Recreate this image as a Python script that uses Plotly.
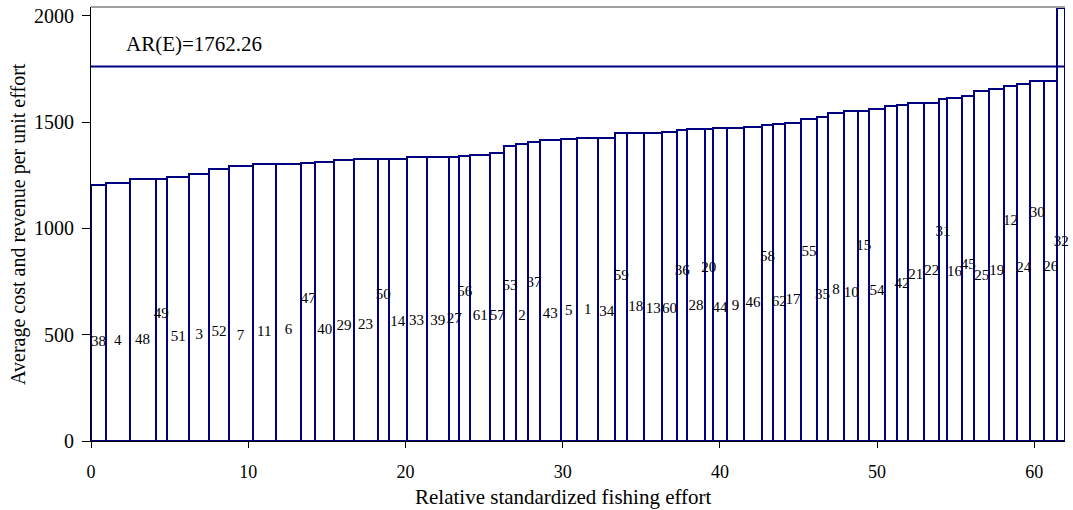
import numpy as np
import plotly.graph_objects as go

# Vessel identifiers, in the order shown (sorted by average cost)
vessels = ["38", "4", "48", "49", "51", "3", "52", "7", "11", "6",
           "47", "40", "29", "23", "50", "14", "33", "39", "27", "56",
           "61", "57", "53", "2", "37", "43", "5", "1", "34", "59",
           "18", "13", "60", "36", "28", "20", "44", "9", "46", "58",
           "62", "17", "55", "35", "8", "10", "15", "54", "41", "42",
           "21", "22", "31", "16", "45", "25", "19", "12", "24", "30",
           "26", "32"]

# Relative standardized fishing effort of each vessel (bar width)
effort = [0.954, 1.501, 1.653, 0.725, 1.418, 1.272, 1.227, 1.526, 1.488, 1.609,
          0.890, 1.208, 1.227, 1.526, 0.744, 1.100, 1.272, 1.443, 0.636, 0.699,
          1.272, 0.890, 0.744, 0.782, 0.744, 1.335, 1.017, 1.373, 1.062, 0.782,
          1.062, 1.145, 0.935, 0.674, 1.106, 0.509, 0.909, 1.081, 1.125, 0.738,
          0.744, 1.017, 1.017, 0.680, 1.036, 0.909, 0.680, 0.998, 0.750, 0.699,
          1.062, 0.960, 0.471, 0.992, 0.744, 0.973, 0.935, 0.827, 0.846, 0.871,
          0.846, 0.490]

# Average cost per unit effort (bar height)
avg_cost = [1205, 1215, 1233, 1234, 1244, 1258, 1279, 1293, 1302, 1304,
            1310, 1314, 1321, 1326, 1328, 1329, 1336, 1338, 1338, 1340,
            1346, 1355, 1390, 1399, 1407, 1416, 1423, 1424, 1427, 1451,
            1451, 1451, 1453, 1462, 1468, 1470, 1471, 1474, 1478, 1486,
            1492, 1495, 1517, 1523, 1545, 1553, 1553, 1561, 1576, 1580,
            1589, 1592, 1609, 1614, 1623, 1646, 1658, 1671, 1679, 1695,
            1695, 2039]

# Height at which each vessel label is written (None = label not shown)
label_y = [463, 471, 475, 596, 486, 499, 510, 491, 514, 522,
           668, 522, 541, 546, 684, 557, 565, 565, 574, 698,
           588, 585, 726, 585, 742, 596, 612, 613, 608, 773,
           627, 621, 621, 801, 635, 815, 624, 632, 648, 864,
           651, 660, 889, 687, 707, 695, 914, 706, None, 739,
           781, 797, 980, 792, 828, 773, 801, 1032, 813, 1071,
           817, 933]

avg_revenue = 1762.26
ar_text = "AR(E)=1762.26"
x_title = "Relative standardized fishing effort"
y_title = "Average cost and revenue per unit effort"
x_ticks = [0, 10, 20, 30, 40, 50, 60]
y_ticks = [0, 500, 1000, 1500, 2000]

NAVY = "#000080"
FONT = "Liberation Serif"

w = np.array(effort)
right = np.cumsum(w)
left = right - w
centers = left + w / 2
total = float(right[-1])

fig = go.Figure()
fig.add_trace(go.Bar(
    x=centers, y=avg_cost, width=w, base=0,
    marker=dict(color="white", line=dict(color=NAVY, width=2)),
    hoverinfo="skip", showlegend=False,
))

fig.add_trace(go.Scatter(
    x=[0, total], y=[avg_revenue, avg_revenue], mode="lines",
    line=dict(color=NAVY, width=2), showlegend=False, hoverinfo="skip",
))

lx = [c for c, ly in zip(centers, label_y) if ly is not None]
ly_ = [ly for ly in label_y if ly is not None]
lt = [v for v, ly in zip(vessels, label_y) if ly is not None]
fig.add_trace(go.Scatter(
    x=lx, y=ly_, text=lt, mode="text",
    textfont=dict(family=FONT, size=15, color="black"),
    textposition="middle center", showlegend=False, hoverinfo="skip",
    cliponaxis=False,
))

fig.add_annotation(
    x=6.57, y=1868, xref="x", yref="y", text=ar_text, showarrow=False,
    font=dict(family=FONT, size=21, color="black"), xanchor="center", yanchor="middle",
)

fig.add_annotation(
    x=0.485, y=-0.129, xref="paper", yref="paper", text=x_title, showarrow=False,
    font=dict(family=FONT, size=21, color="black"), xanchor="center", yanchor="middle",
)
fig.add_annotation(
    x=-0.075, y=0.5, xref="paper", yref="paper", text=y_title, showarrow=False,
    textangle=-90,
    font=dict(family=FONT, size=20, color="black"), xanchor="center", yanchor="middle",
)

# grey top frame line
fig.add_shape(type="line", xref="paper", yref="paper", x0=0, x1=1, y0=1, y1=1,
              line=dict(color="#a0a0a0", width=2))

fig.update_layout(
    width=1073, height=510,
    margin=dict(l=91, r=8, t=7, b=69, autoexpand=False),
    paper_bgcolor="white", plot_bgcolor="white",
    bargap=0,
    font=dict(family=FONT, color="black"),
)
fig.update_xaxes(
    range=[0, total], tickmode="array", tickvals=x_ticks,
    ticks="outside", ticklen=6, tickcolor="black",
    showline=True, linecolor="black", linewidth=1,
    showgrid=False, zeroline=False, automargin=False,
    tickfont=dict(family=FONT, size=18, color="black"),
    ticklabelstandoff=8,
)
fig.update_yaxes(
    range=[0, 2042], tickmode="array", tickvals=y_ticks,
    ticks="outside", ticklen=8, tickcolor="black",
    showline=True, linecolor="black", linewidth=1,
    showgrid=False, zeroline=False, automargin=False,
    tickfont=dict(family=FONT, size=20, color="black"),
    ticklabelstandoff=4,
)

fig.write_html(
    "out.html",
    config={"displayModeBar": False},
    post_script="document.body.style.margin='0';document.body.style.overflow='hidden';",
)
